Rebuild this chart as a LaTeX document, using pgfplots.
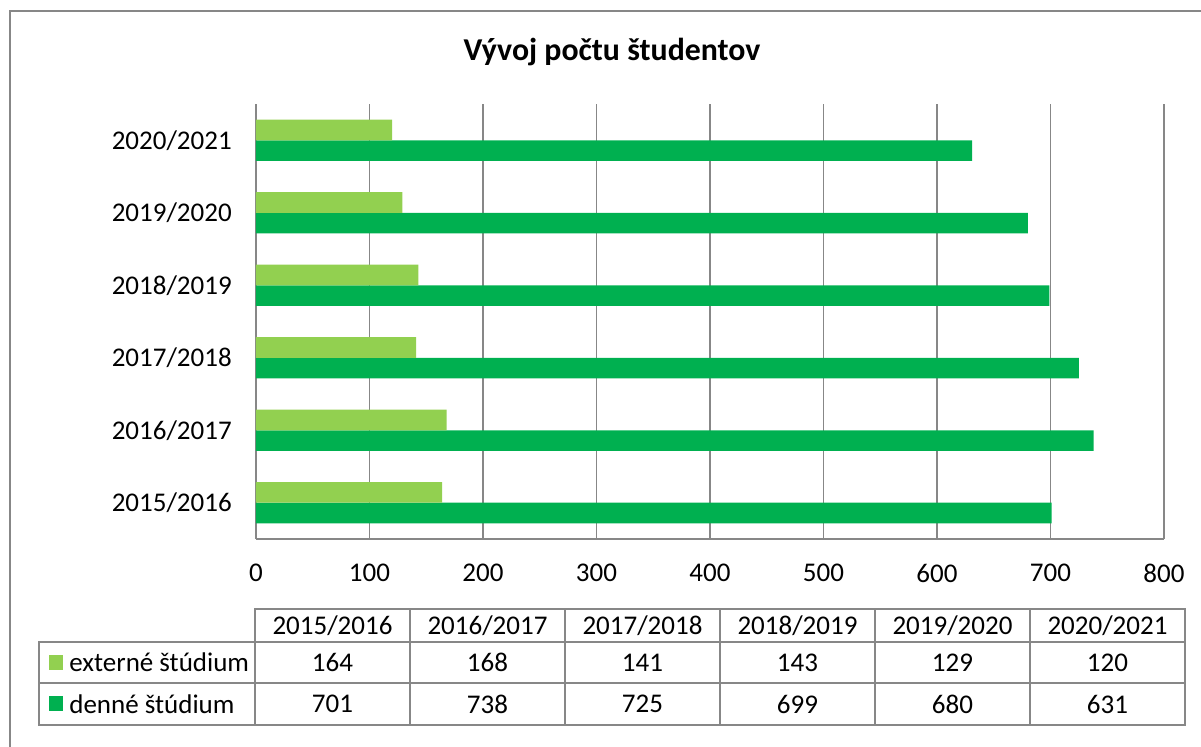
\documentclass[border=0pt]{standalone}
\usepackage{pgfplots}
\pgfplotsset{compat=1.18}
\usepackage{fontspec}
\setmainfont{Carlito}
\definecolor{lightg}{HTML}{92D050}
\definecolor{darkg}{HTML}{00B050}
\definecolor{gridc}{HTML}{878787}
\begin{document}
\begin{tikzpicture}
\begin{axis}[
  at={(153.6pt,-323.4pt)}, anchor=south west,
  scale only axis, width=544.8pt, height=261pt,
  xmin=0, xmax=800, ymin=-0.5, ymax=5.5,
  xtick={0,100,...,800}, ytick={0,1,2,3,4,5},
  yticklabels={2015/2016,2016/2017,2017/2018,2018/2019,2019/2020,2020/2021},
  xmajorgrids, major grid style={gridc, line width=0.8pt},
  axis x line*=bottom, axis y line*=left,
  axis line style={gridc, line width=0.8pt, -},
  major tick length=0pt,
  tick label style={font=\fontsize{16.2}{19}\selectfont, inner sep=0pt, text=black},
  xticklabel style={anchor=center, yshift=-20.4pt},
  yticklabel style={anchor=east, xshift=-14.4pt},
  xbar, bar width=0.283,
  /pgf/number format/assume math mode=true,
]
\addplot[fill=darkg, draw=none, bar shift=-0.1415] coordinates {(701,0) (738,1) (725,2) (699,3) (680,4) (631,5)};
\addplot[fill=lightg, draw=none, bar shift=0.1415] coordinates {(164,0) (168,1) (141,2) (143,3) (129,4) (120,5)};
\end{axis}
\begin{scope}[x=0.6pt,y=-0.6pt, font=\fontsize{16.2}{19}\selectfont]
  \draw[gridc, line width=0.8pt] (10,747) -- (10,11) -- (1201,11);
  \node[font=\fontsize{19.1}{23}\selectfont\bfseries] at (612,52) {Vývoj počtu študentov};
  % table grid
  \draw[gridc, line width=0.8pt] (255,609) rectangle (1185,725);
  \draw[gridc, line width=0.8pt] (39,642) rectangle (255,725);
  \draw[gridc, line width=0.8pt] (39,642) -- (1185,642);
  \draw[gridc, line width=0.8pt] (39,683) -- (1185,683);
  \foreach \xx in {410,565,720,875,1030} {
    \draw[gridc, line width=0.8pt] (\xx,609) -- (\xx,725);
  }
  \foreach \lab [count=\i from 0] in {2015/2016,2016/2017,2017/2018,2018/2019,2019/2020,2020/2021} {
    \node at (332.5+155*\i,625.5) {\lab};
  }
  \foreach \v [count=\i from 0] in {164,168,141,143,129,120} {
    \node at (332.5+155*\i,662.5) {\v};
  }
  \foreach \v [count=\i from 0] in {701,738,725,699,680,631} {
    \node at (332.5+155*\i,704) {\v};
  }
  \fill[lightg] (49,655) rectangle (63,670);
  \fill[darkg] (49,696) rectangle (63,711);
  \node[anchor=west, inner sep=0pt] at (69,662.5) {externé štúdium};
  \node[anchor=west, inner sep=0pt] at (69,704) {denné štúdium};
\end{scope}
\pgfresetboundingbox
\path[use as bounding box, x=0.6pt, y=-0.6pt] (0,0) rectangle (1201,747);
\end{tikzpicture}
\end{document}
